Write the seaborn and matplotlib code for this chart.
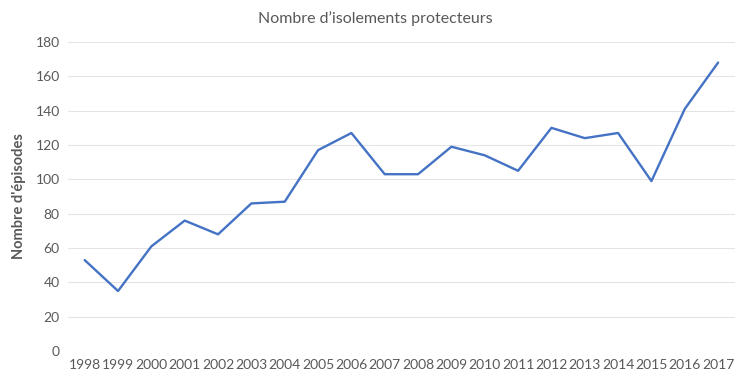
import pandas as pd
import seaborn as sns
import matplotlib.pyplot as plt

years = list(range(1998, 2018))
episodes = [53, 35, 61, 76, 68, 86, 87, 117, 127, 103,
            103, 119, 114, 105, 130, 124, 127, 99, 141, 168]

df = pd.DataFrame({"annee": years, "episodes": episodes})

sns.set_style("white")
plt.rcParams["font.family"] = ["Lato", "DejaVu Sans"]

fig = plt.figure(figsize=(7.5, 3.85), dpi=100)
ax = fig.add_axes([0.0907, 0.088, 0.889, 0.803])

sns.lineplot(data=df, x="annee", y="episodes", color="#4472C4",
             linewidth=1.7, ax=ax)

ax.set_xlim(1997.5, 2017.5)
ax.set_ylim(0, 180)
ax.set_xticks(years)
ax.set_xticklabels([str(y) for y in years])
ax.set_yticks(range(0, 181, 20))
ax.yaxis.grid(True, color="#E4E4E4", linewidth=0.75)
ax.set_axisbelow(True)
for s in ax.spines.values():
    s.set_visible(False)
ax.tick_params(axis="both", length=0, labelsize=10, labelcolor="#595959", pad=6)

ax.set_xlabel("")
ax.set_ylabel("Nombre d'épisodes", fontsize=10.5, fontweight="bold", color="#595959", labelpad=7)
fig.suptitle("Nombre d’isolements protecteurs", fontsize=11.5, color="#595959", y=0.97)

fig.savefig("out.png", dpi=100)
